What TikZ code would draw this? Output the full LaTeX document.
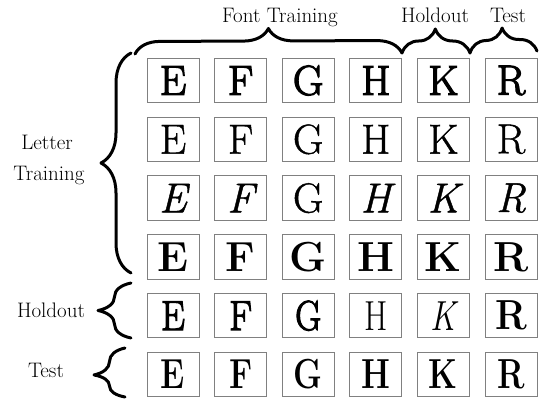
\documentclass[tikz,border=0pt]{standalone}
\usepackage{fontspec}
\setmainfont{Latin Modern Roman}
\newfontfamily\lmA{Latin Modern Roman}[FakeBold=3]
\newfontfamily\lmB{Latin Modern Roman}[FakeBold=1]
\usetikzlibrary{decorations.pathreplacing}
\tikzset{
  lbox/.style={draw=black!50, line width=1pt, minimum width=52pt, minimum height=44.5pt, inner sep=0pt,
    font=\fontsize{42}{42}\selectfont},
  lab/.style={font=\fontsize{21}{24}\selectfont, anchor=base, inner sep=0pt},
  brc/.style={decorate, line width=3pt, line cap=round, line join=round},
}
\begin{document}
\begin{tikzpicture}[x=1pt,y=-1pt]
\useasboundingbox (0,0) rectangle (543,403);
% row 1
\foreach \L [count=\c] in {E,F,G,H,K,R}
  \node[lbox] (ra\c) at ({173+67.6*(\c-1)},80.5) {\lmA\L};
% row 2
\foreach \L [count=\c] in {E,F,G,H,K,R}
  \node[lbox] (rb\c) at ({173+67.6*(\c-1)},139.3) {\lmB\L};
% row 3
\foreach \L [count=\c] in {{\lmB\itshape E},{\lmB\itshape F},{\lmB G},{\lmB\itshape H},{\lmB\itshape K},{\lmB\itshape R}}
  \node[lbox] (rc\c) at ({173+67.6*(\c-1)},198.1) {\L};
% row 4
\foreach \L [count=\c] in {E,F,G,H,K,R}
  \node[lbox] (rd\c) at ({173+67.6*(\c-1)},256.9) {\bfseries\L};
% row 5
\foreach \L [count=\c] in {{\lmA\scalebox{0.9}[1]{E}},{\lmA\scalebox{0.9}[1]{F}},{\lmA\scalebox{0.85}[1]{G}},{\scalebox{0.8}[1]{H}},{\slshape\scalebox{0.8}[1]{K}},{\bfseries\scalebox{0.9}[1]{R}}}
  \node[lbox] (re\c) at ({173+67.6*(\c-1)},315.7) {\L};
% row 6
\foreach \L [count=\c] in {E,F,G,H,K,R}
  \node[lbox] (rf\c) at ({173+67.6*(\c-1)},374.5) {\bfseries\scalebox{0.78}[1]{\L}};
% labels
\node[lab] (tft) at (280,23) {Font Training};
\node[lab] (tho) at (435,23) {Holdout};
\node[lab] (tte) at (508,23) {Test};
\node[lab] (lle) at (47,150) {Letter};
\node[lab] (ltr) at (49,181) {Training};
\node[lab] (lho) at (51,317) {Holdout};
\node[lab] (lte) at (46,377) {Test};
% brace end points
\coordinate (fa) at (135,54);
\coordinate (fb) at (402,53);
\coordinate (hb) at (470,53);
\coordinate (tb) at (537,51);
\coordinate (la) at (131,273);
\coordinate (lb) at (131,53);
\coordinate (ha) at (131,338);
\coordinate (hb2) at (131,283);
\coordinate (ta) at (125,397);
\coordinate (tb2) at (125,348);
% top braces
\draw[brc, decoration={brace, amplitude=25pt, aspect=0.5}] (fa) -- (fb);
\draw[brc, decoration={brace, amplitude=24pt, aspect=0.49}] (fb) -- (hb);
\draw[brc, decoration={brace, amplitude=24pt, aspect=0.49}] (hb) -- (tb);
% left braces
\draw[brc, decoration={brace, amplitude=30pt, aspect=0.5}] (la) -- (lb);
\draw[brc, decoration={brace, amplitude=33pt, aspect=0.5}] (ha) -- (hb2);
\draw[brc, decoration={brace, amplitude=31pt, aspect=0.45}] (ta) -- (tb2);
\end{tikzpicture}
\end{document}
